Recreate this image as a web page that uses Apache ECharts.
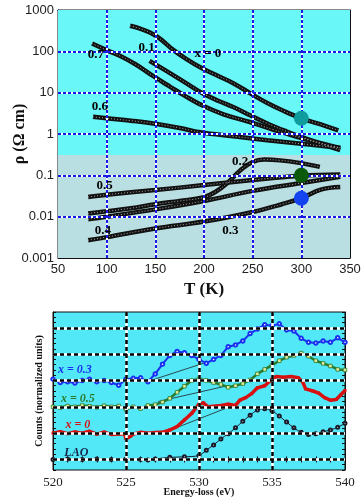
<!DOCTYPE html>
<html><head><meta charset="utf-8">
<script src="https://cdn.jsdelivr.net/npm/echarts@6/dist/echarts.min.js"></script>
<style>html,body{margin:0;padding:0;background:#fff}#c{width:364px;height:504px}</style>
</head><body><div id="c"></div>
<script>
// ---------- top panel: resistivity vs temperature ----------
const T_x0   = [124,135,145,155,168,182,197,212,230,248,265,282,300,320,338];
const R_x0   = [415,350,280,200,110,65,40,27,17,9.5,5.6,3.6,2.4,1.7,1.23];
const T_x01  = [144,160,180,199,215,230,248,265,285,300,320,340];
const R_x01  = [59,35,18,9.5,6.3,4.5,2.8,1.8,1.15,0.85,0.6,0.46];
const T_x07  = [85,100,115,130,148,165,180,199,220,247,270,300,320,340];
const R_x07  = [155,107,75,48,25,14,8.5,4.8,3.0,1.95,1.3,0.8,0.58,0.41];
const T_x06  = [86,100,125,148,175,196,230,265,300,340];
const R_x06  = [2.6,2.4,2.1,1.8,1.4,1.1,0.88,0.71,0.58,0.46];
const T_x02  = [81,100,125,150,175,199,212,224,237,250,262,278,298,319];
const R_x02  = [0.012,0.0135,0.016,0.02,0.024,0.029,0.04,0.065,0.13,0.21,0.24,0.23,0.2,0.16];
const T_x05  = [81,100,150,200,250,300,340];
const R_x05  = [0.03,0.034,0.044,0.058,0.077,0.098,0.105];
const T_x04  = [81,100,150,200,250,300,340];
const R_x04  = [0.0087,0.01,0.015,0.024,0.042,0.065,0.092];
const T_x03  = [81,100,150,200,250,280,300,320,340];
const R_x03  = [0.0027,0.0032,0.0052,0.0076,0.013,0.02,0.028,0.045,0.052];
const dotT   = [300,300,300];
const dotR   = [2.4,0.1,0.028];
const dotColors = ['#0e9c9c','#0b5a0b','#1444f0'];
const curveLabels = ['0.7','0.1','x = 0','0.6','0.2','0.5','0.4','0.3'];
const curveLabelT = [89,141,204,93,237,98,96,227];
const curveLabelR = [81,120,86,4.5,0.22,0.057,0.0047,0.0045];
const topGridT = [100,150,200,250,300];
const topGridR = [0.01,0.1,1,10,100];
const bandSplit = 0.31;

// ---------- bottom panel: EELS spectra ----------
const E_b  = [520,520.5,521,521.5,522,522.5,523,523.5,524,524.5,525,525.5,526,526.5,527,527.5,528,528.5,529,529.5,530,530.5,531,531.5,532,532.5,533,533.5,534,534.5,535,535.5,536,536.5,537,537.5,538,538.5,539,539.5,540];
const C_x03 = [3.05,2.92,2.95,2.90,3.00,3.05,2.95,3.00,2.92,2.82,3.05,3.08,3.10,2.95,3.25,3.62,3.95,4.10,4.05,3.95,3.80,3.65,3.80,3.95,4.28,4.35,4.50,4.78,4.95,5.12,5.08,5.15,4.92,4.88,4.60,4.45,4.42,4.50,4.45,4.62,4.45];
const C_x05 = [2.00,1.97,2.03,2.00,2.05,2.02,1.98,2.04,2.00,2.03,1.90,2.00,1.93,2.05,2.08,2.18,2.32,2.55,2.78,3.00,3.06,3.00,2.92,2.85,2.74,2.80,2.88,3.02,3.25,3.42,3.58,3.75,3.88,3.95,4.04,3.92,3.75,3.65,3.55,3.42,3.40];
const E_r  = [520,520.5,521,521.5,522,522.5,523,523.5,524,524.5,524.9,525,525.3,525.5,526,526.5,527,527.5,528,528.5,529,529.5,530,530.3,530.6,531,531.5,532,532.5,532.8,533.2,533.6,534,534.5,535,535.3,535.8,536.3,536.8,537.1,537.3,537.8,538.2,538.6,539,539.4,539.7,540];
const C_x0 = [1.00,1.05,0.98,1.04,1.00,1.07,0.96,1.04,0.95,0.97,0.98,0.78,0.88,0.97,1.03,1.00,1.02,1.03,1.12,1.25,1.50,1.75,2.10,2.15,2.00,2.02,2.05,2.10,2.05,2.25,2.35,2.50,2.72,2.80,3.05,3.15,3.12,3.15,3.10,2.95,2.68,2.60,2.52,2.35,2.25,2.28,2.45,2.62];
const E_l  = [520,521,522,523,524,525,526,526.5,527,528,529,530,530.5,531,531.5,532,532.5,533,533.5,534,534.5,535,535.5,536,536.5,537,537.5,538,538.5,539,539.5,540];
const C_lao = [0.0,0.02,0.0,0.02,0.0,0.02,0.0,-0.02,0.02,0.08,0.10,0.15,0.35,0.55,0.78,0.98,1.2,1.45,1.68,1.88,1.93,1.85,1.65,1.42,1.20,1.03,0.95,0.98,1.05,1.12,1.22,1.38];
const guide03 = [[526.7,3.0],[531.0,3.78]];
const guide05 = [[527.2,2.2],[532.1,2.82]];
const guide0  = [[527.6,1.02],[532.1,2.0]];
const specLabels = ['x = 0.3','x = 0.5','x = 0','LAO'];
const specLabelE = [521.5,521.7,521.7,521.6];
const specLabelC = [3.4,2.3,1.31,0.25];
const specColors = ['#1a30f0','#2a7a2a','#d81010','#17264a'];
const botGridE = [525,530,535];
const botGridC = [0,1,2,3,4,5];

const zip = (a,b) => a.map((v,i)=>[v,b[i]]);
const serif = 'Liberation Serif, Times New Roman, serif';
const sans = 'Liberation Sans, Arial, sans-serif';

const series = [];
series.push({type:'line', xAxisIndex:0, yAxisIndex:0, data:[], z:-1, silent:true,
  markArea:{silent:true, data:[
    [{yAxis:bandSplit, itemStyle:{color:'#6af7f8'}},{yAxis:1000}],
    [{yAxis:0.001, itemStyle:{color:'#badfe2'}},{yAxis:bandSplit}]
  ]}});
const topGL = topGridT.map(v=>({xAxis:v})).concat(topGridR.map(v=>({yAxis:v})));
series.push({type:'line', xAxisIndex:0, yAxisIndex:0, data:[], z:1, silent:true,
  markLine:{silent:true, symbol:['none','none'], label:{show:false}, animation:false,
    lineStyle:{color:'#ffffff', type:'solid', width:2}, data:topGL}});
series.push({type:'line', xAxisIndex:0, yAxisIndex:0, data:[], z:1.5, silent:true,
  markLine:{silent:true, symbol:['none','none'], label:{show:false}, animation:false,
    lineStyle:{color:'#1a1ae8', type:[3,2], width:2}, data:topGL}});
const curves = [[T_x0,R_x0],[T_x01,R_x01],[T_x07,R_x07],[T_x06,R_x06],[T_x02,R_x02],[T_x05,R_x05],[T_x04,R_x04],[T_x03,R_x03]];
curves.forEach(([t,r])=>{
  series.push({type:'line', xAxisIndex:0, yAxisIndex:0, data:zip(t,r), smooth:0.4, symbol:'none', z:3,
    lineStyle:{color:'#111', width:4.5}});
  series.push({type:'line', xAxisIndex:0, yAxisIndex:0, data:zip(t,r), smooth:0.4, symbol:'none', z:4,
    lineStyle:{color:'#e0e0e0', width:1, type:[1,2], opacity:0.7}});
});
series.push({type:'scatter', xAxisIndex:0, yAxisIndex:0, z:6, symbolSize:15,
  data: dotT.map((t,i)=>({value:[t,dotR[i]], itemStyle:{color:dotColors[i], opacity:1}}))});
series.push({type:'scatter', xAxisIndex:0, yAxisIndex:0, z:7, symbolSize:0, itemStyle:{opacity:1},
  data: curveLabels.map((s,i)=>({name:s, value:[curveLabelT[i],curveLabelR[i]]})),
  label:{show:true, position:'inside', formatter:'{b}', fontFamily:serif, fontWeight:'bold', fontSize:13, color:'#000', opacity:1}});

const botGL = botGridE.map(v=>({xAxis:v})).concat(botGridC.map(v=>({yAxis:v})));
series.push({type:'line', xAxisIndex:2, yAxisIndex:2, data:[], z:1, silent:true,
  markLine:{silent:true, symbol:['none','none'], label:{show:false}, animation:false,
    lineStyle:{color:'#ffffff', type:'solid', width:2.5}, data:botGL}});
series.push({type:'line', xAxisIndex:2, yAxisIndex:2, data:[], z:1.5, silent:true,
  markLine:{silent:true, symbol:['none','none'], label:{show:false}, animation:false,
    lineStyle:{color:'#000000', type:[4,3], width:2.5}, data:botGL}});
[guide03,guide05,guide0].forEach(g=>{
  series.push({type:'line', xAxisIndex:2, yAxisIndex:2, data:g, symbol:'none', z:2,
    lineStyle:{color:'#222', width:0.8}});
});
series.push({type:'line', xAxisIndex:2, yAxisIndex:2, data:zip(E_l,C_lao), z:3, smooth:0.3,
  symbol:'emptyCircle', symbolSize:3, itemStyle:{color:'#1a1a2a', borderWidth:0.8},
  lineStyle:{color:'#1a1a2a', width:1}});
series.push({type:'line', xAxisIndex:2, yAxisIndex:2, data:zip(E_r,C_x0), z:4,
  symbol:'rect', symbolSize:3, itemStyle:{color:'#d81010'},
  lineStyle:{color:'#d81010', width:3.5}});
series.push({type:'line', xAxisIndex:2, yAxisIndex:2, data:zip(E_b,C_x05), z:4,
  symbol:'rect', symbolSize:3.5, itemStyle:{color:'#e6eda0', borderColor:'#2a7a2a', borderWidth:0.8},
  lineStyle:{color:'#2a7a2a', width:2.5}});
series.push({type:'line', xAxisIndex:2, yAxisIndex:2, data:zip(E_b,C_x03), z:4,
  symbol:'emptyCircle', symbolSize:3.5, itemStyle:{color:'#1a30f0', borderWidth:1},
  lineStyle:{color:'#1a30f0', width:2}});
series.push({type:'scatter', xAxisIndex:2, yAxisIndex:2, z:7, symbolSize:0, itemStyle:{opacity:1},
  data: specLabels.map((s,i)=>({name:s, value:[specLabelE[i],specLabelC[i]], label:{color:specColors[i]}})),
  label:{show:true, position:'inside', formatter:'{b}', fontFamily:serif, fontStyle:'italic', fontWeight:'bold', fontSize:12, opacity:1}});

const frame = {lineStyle:{color:'#111', width:1}};
const option = {
  animation:false,
  grid:[
    {left:58, top:10, width:292, height:248, show:true, borderColor:'#111', borderWidth:1, backgroundColor:'transparent', containLabel:false, outerBoundsMode:'none'},
    {left:53, top:312, width:292, height:158, show:true, borderColor:'#111', borderWidth:1, backgroundColor:'#52e8f8', containLabel:false, outerBoundsMode:'none'}
  ],
  xAxis:[
    {gridIndex:0, type:'value', min:50, max:350, interval:50, position:'bottom',
      axisLine:frame, axisTick:{inside:true, length:6, lineStyle:{color:'#111'}},
      minorTick:{show:true, splitNumber:5, length:3, lineStyle:{color:'#111'}},
      splitLine:{show:false},
      axisLabel:{fontFamily:sans, fontSize:13, color:'#222', margin:5},
      name:'T (K)', nameLocation:'middle', nameGap:23, nameMoveOverlap:false,
      nameTextStyle:{fontFamily:serif, fontWeight:'bold', fontSize:17, color:'#111'}},
    {gridIndex:0, type:'value', min:50, max:350, interval:50, position:'top',
      axisLine:frame, axisTick:{inside:true, length:4, lineStyle:{color:'#111'}},
      minorTick:{show:true, splitNumber:5, length:3, lineStyle:{color:'#111'}},
      splitLine:{show:false}, axisLabel:{show:false}},
    {gridIndex:1, type:'value', min:520, max:540, interval:5, position:'bottom',
      axisLine:frame, axisTick:{inside:true, length:5, lineStyle:{color:'#111'}},
      minorTick:{show:true, splitNumber:5, length:3, lineStyle:{color:'#111'}},
      splitLine:{show:false},
      axisLabel:{fontFamily:serif, fontSize:13, color:'#222', margin:6},
      name:'Energy-loss (eV)', nameLocation:'middle', nameGap:17, nameMoveOverlap:false,
      nameTextStyle:{fontFamily:serif, fontWeight:'bold', fontSize:10, color:'#111'}},
    {gridIndex:1, type:'value', min:520, max:540, interval:5, position:'top',
      axisLine:frame, axisTick:{inside:true, length:5, lineStyle:{color:'#111'}},
      minorTick:{show:true, splitNumber:5, length:3, lineStyle:{color:'#111'}},
      splitLine:{show:false}, axisLabel:{show:false}}
  ],
  yAxis:[
    {gridIndex:0, type:'log', logBase:10, min:0.001, max:1000, interval:1, position:'left',
      axisLine:frame, axisTick:{show:false}, splitLine:{show:false},
      axisLabel:{fontFamily:sans, fontSize:13, color:'#222', margin:4,
        formatter:v=>String(Number(Number(v).toPrecision(1)))},
      name:'ρ (Ω cm)', nameLocation:'middle', nameGap:30, nameRotate:90, nameMoveOverlap:false,
      nameTextStyle:{fontFamily:serif, fontWeight:'bold', fontSize:16, color:'#111'}},
    {gridIndex:0, type:'log', logBase:10, min:0.001, max:1000, interval:1, position:'right',
      axisLine:frame, axisTick:{inside:true, length:5, lineStyle:{color:'#111'}},
      minorTick:{show:true, splitNumber:9, length:3, lineStyle:{color:'#111'}},
      splitLine:{show:false}, axisLabel:{show:false}},
    {gridIndex:1, type:'value', min:-0.4, max:5.6, interval:0.2, position:'left',
      axisLine:frame, axisTick:{inside:true, length:3, lineStyle:{color:'#111'}},
      splitLine:{show:false}, axisLabel:{show:false},
      name:'Counts (normalized units)', nameLocation:'middle', nameGap:9, nameRotate:90, nameMoveOverlap:false,
      nameTextStyle:{fontFamily:serif, fontWeight:'bold', fontSize:10, color:'#111'}},
    {gridIndex:1, type:'value', min:-0.4, max:5.6, interval:0.2, position:'right',
      axisLine:frame, axisTick:{inside:true, length:3, lineStyle:{color:'#111'}},
      splitLine:{show:false}, axisLabel:{show:false}}
  ],
  series
};
const chart = echarts.init(document.getElementById('c'), null, {renderer:'canvas'});
chart.setOption(option);
</script></body></html>
